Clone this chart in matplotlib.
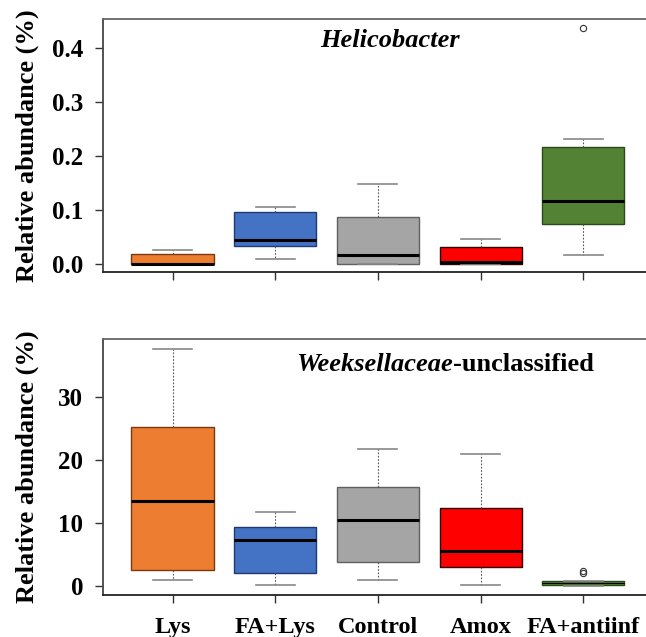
import matplotlib
matplotlib.use("Agg")
import matplotlib.pyplot as plt

groups = ["Lys", "FA+Lys", "Control", "Amox", "FA+antiinf"]
colors = ["#ED7D31", "#4472C4", "#A5A5A5", "#FF0000", "#548235"]
edges = ["#7a3a10", "#1f3a70", "#606060", "#300000", "#2a4a18"]

# Helicobacter (%)
heli_low = [0.0, 0.009, 0.0, 0.0, 0.016]
heli_q1 = [0.0, 0.034, 0.0, 0.0, 0.074]
heli_med = [0.0, 0.044, 0.016, 0.003, 0.117]
heli_q3 = [0.018, 0.096, 0.087, 0.031, 0.217]
heli_high = [0.025, 0.105, 0.149, 0.046, 0.231]
heli_out = [[], [], [], [], [0.438]]

# Weeksellaceae-unclassified (%)
week_low = [1.0, 0.2, 1.0, 0.2, 0.0]
week_q1 = [2.6, 2.1, 3.9, 3.1, 0.2]
week_med = [13.5, 7.3, 10.5, 5.6, 0.5]
week_q3 = [25.3, 9.5, 15.8, 12.4, 0.8]
week_high = [37.7, 11.8, 21.8, 21.0, 0.9]
week_out = [[], [], [], [], [2.2, 2.5]]

serif = ["Liberation Serif", "DejaVu Serif"]
plt.rcParams["font.family"] = serif
plt.rcParams["font.weight"] = "bold"

fig = plt.figure(figsize=(6.46, 6.37), dpi=100)
ax1 = fig.add_axes([0.159, 0.573, 0.841, 0.397])
ax2 = fig.add_axes([0.159, 0.066, 0.841, 0.402])


def draw(ax, low, q1, med, q3, high, outs):
    stats = []
    for i in range(len(groups)):
        stats.append(dict(whislo=low[i], q1=q1[i], med=med[i], q3=q3[i],
                          whishi=high[i], fliers=outs[i]))
    bp = ax.bxp(stats, positions=range(1, len(groups) + 1), widths=0.8,
                patch_artist=True, showfliers=True,
                medianprops=dict(color="black", lw=2.2),
                whiskerprops=dict(color="#555555", lw=0.8, linestyle=(0, (1.5, 1.5))),
                capprops=dict(color="#888888", lw=1.2),
                flierprops=dict(marker="o", markerfacecolor="none",
                                markeredgecolor="#333333", markersize=4.5, mew=0.8))
    for b, c, e in zip(bp["boxes"], colors, edges):
        b.set_facecolor(c)
        b.set_edgecolor(e)
        b.set_linewidth(1.0)
    for cap in bp["caps"]:
        x = cap.get_xdata()
        m = (x[0] + x[1]) / 2
        cap.set_xdata([m - 0.19, m + 0.19])
    ax.set_xlim(0.32, 5.61)
    ax.spines["right"].set_visible(False)
    ax.spines["top"].set_color("#666666")
    ax.spines["left"].set_color("#444444")
    ax.spines["bottom"].set_color("#222222")
    for s in ax.spines.values():
        s.set_linewidth(1.3)
    ax.tick_params(axis="both", direction="out", length=6, width=1, colors="#333333",
                   labelcolor="black")
    ax.tick_params(axis="y", pad=8)
    ax.set_ylabel("Relative abundance (%)", fontsize=19, fontweight="bold")
    ax.yaxis.set_label_coords(-0.118, 0.5)
    return bp


draw(ax1, heli_low, heli_q1, heli_med, heli_q3, heli_high, heli_out)
ax1.set_ylim(-0.015, 0.454)
ax1.set_yticks([0.0, 0.1, 0.2, 0.3, 0.4])
ax1.set_yticklabels(["0.0", "0.1", "0.2", "0.3", "0.4"], fontsize=18, fontweight="bold")
ax1.set_xticks(range(1, 6))
ax1.set_xticklabels([])
ax1.text(0.529, 0.915, "Helicobacter", transform=ax1.transAxes, ha="center", va="center",
         fontsize=19, fontweight="bold", style="italic")

bp2 = draw(ax2, week_low, week_q1, week_med, week_q3, week_high, week_out)
bp2["medians"][4].set_linewidth(0.8)
ax2.set_ylim(-1.35, 39.3)
ax2.set_yticks([0, 10, 20, 30])
ax2.set_yticklabels(["0", "10", "20", "30"], fontsize=18, fontweight="bold")
ax2.set_xticks(range(1, 6))
ax2.set_xticklabels(groups, fontsize=17.5, fontweight="bold")
ax2.tick_params(axis="x", pad=10)
t = ax2.text(0.357, 0.9, "Weeksellaceae", transform=ax2.transAxes, ha="left", va="center",
             fontsize=19, fontweight="bold", style="italic")
fig.canvas.draw()
bb = t.get_window_extent()
x_end = ax2.transAxes.inverted().transform((bb.x1, bb.y0))[0]
ax2.text(x_end, 0.9, "-unclassified", transform=ax2.transAxes, ha="left", va="center",
         fontsize=19, fontweight="bold")

fig.savefig("out.png", dpi=100)
